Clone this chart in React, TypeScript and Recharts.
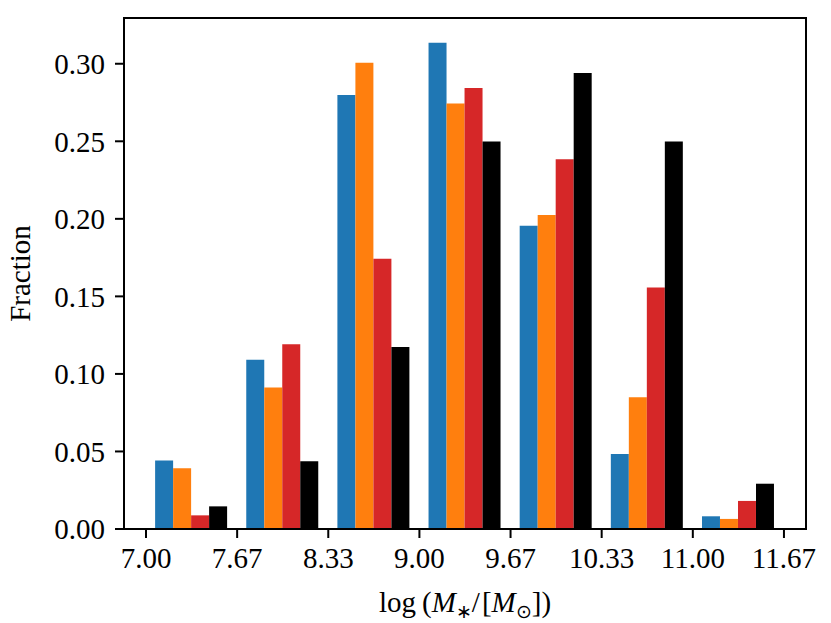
import React from 'react';
import { BarChart, Bar, XAxis, YAxis, ReferenceArea } from 'recharts';

// bin left edges (log stellar mass)
const binEdges = [7.0, 7.6667, 8.3333, 9.0, 9.6667, 10.3333, 11.0];
const blueFrac = [0.0441, 0.1092, 0.2798, 0.3135, 0.1955, 0.0484, 0.0082];
const orangeFrac = [0.0392, 0.0912, 0.3006, 0.2744, 0.2024, 0.085, 0.0065];
const redFrac = [0.0088, 0.1192, 0.1742, 0.2843, 0.2385, 0.1557, 0.0181];
const blackFrac = [0.0146, 0.0437, 0.1174, 0.2499, 0.294, 0.2499, 0.0292];

const xTicks = [7.0, 7.6667, 8.3333, 9.0, 9.6667, 10.3333, 11.0, 11.6667];
const yTicks = [0, 0.05, 0.1, 0.15, 0.2, 0.25, 0.3];

const X_MIN = 6.839;
const X_MAX = 11.828;
const Y_MAX = 0.3295;

const FONT = '"Liberation Serif", "Times New Roman", serif';

const data = binEdges.map((edge, i) => ({
  bin: String(i),
  edge,
  blue: blueFrac[i],
  orange: orangeFrac[i],
  red: redFrac[i],
  black: blackFrac[i],
}));

function XLabel(props: any) {
  const vb = props.viewBox || {};
  const cx = vb.x + vb.width / 2;
  return (
    <text x={cx} y={612} textAnchor="middle" fontFamily={FONT} fontSize={29} fill="#000">
      <tspan>log</tspan>
      <tspan dx={6}>(</tspan>
      <tspan fontStyle="italic">M</tspan>
      <tspan fontSize={19} dy={6}>∗</tspan>
      <tspan dy={-6}>/</tspan>
      <tspan dx={2}>[</tspan>
      <tspan fontStyle="italic">M</tspan>
      <tspan fontSize={19} dy={6}>⊙</tspan>
      <tspan dy={-6}>])</tspan>
    </text>
  );
}

function YLabel(props: any) {
  const vb = props.viewBox || {};
  const cy = vb.y + vb.height / 2;
  return (
    <text
      x={30}
      y={cy}
      textAnchor="middle"
      transform={`rotate(-90, 30, ${cy})`}
      fontFamily={FONT}
      fontSize={29}
      fill="#000"
    >
      Fraction
    </text>
  );
}

export default function App() {
  return (
    <div style={{ position: 'absolute', left: 0, top: 0, background: '#fff' }}>
      <BarChart
        width={831}
        height={623}
        data={data}
        margin={{ top: 18, right: 25, left: 0, bottom: 0 }}
        barCategoryGap="10%"
        barGap={0}
      >
        <XAxis xAxisId="bins" dataKey="bin" hide height={0} padding={{ left: 22, right: 22 }} />
        <XAxis
          xAxisId="num"
          dataKey="edge"
          type="number"
          domain={[X_MIN, X_MAX]}
          allowDataOverflow
          ticks={xTicks}
          interval={0}
          tickFormatter={(v: number) => v.toFixed(2)}
          height={94}
          tickSize={9}
          tickMargin={9}
          axisLine={{ stroke: '#000', strokeWidth: 2 }}
          tickLine={{ stroke: '#000', strokeWidth: 2 }}
          tick={{ fill: '#000', fontSize: 29, fontFamily: FONT }}
          label={<XLabel />}
        />
        <YAxis
          domain={[0, Y_MAX]}
          allowDataOverflow
          ticks={yTicks}
          interval={0}
          tickFormatter={(v: number) => v.toFixed(2)}
          width={124}
          tickSize={9}
          tickMargin={10}
          axisLine={{ stroke: '#000', strokeWidth: 2 }}
          tickLine={{ stroke: '#000', strokeWidth: 2 }}
          tick={{ fill: '#000', fontSize: 29, fontFamily: FONT }}
          label={<YLabel />}
        />
        <Bar xAxisId="bins" dataKey="blue" fill="#1f77b4" isAnimationActive={false} />
        <Bar xAxisId="bins" dataKey="orange" fill="#ff7f0e" isAnimationActive={false} />
        <Bar xAxisId="bins" dataKey="red" fill="#d62728" isAnimationActive={false} />
        <Bar xAxisId="bins" dataKey="black" fill="#000000" isAnimationActive={false} />
        <ReferenceArea
          xAxisId="num"
          x1={X_MIN}
          x2={X_MAX}
          y1={0}
          y2={Y_MAX}
          fill="none"
          fillOpacity={0}
          stroke="#000"
          strokeWidth={2}
          strokeOpacity={1}
        />
      </BarChart>
    </div>
  );
}
